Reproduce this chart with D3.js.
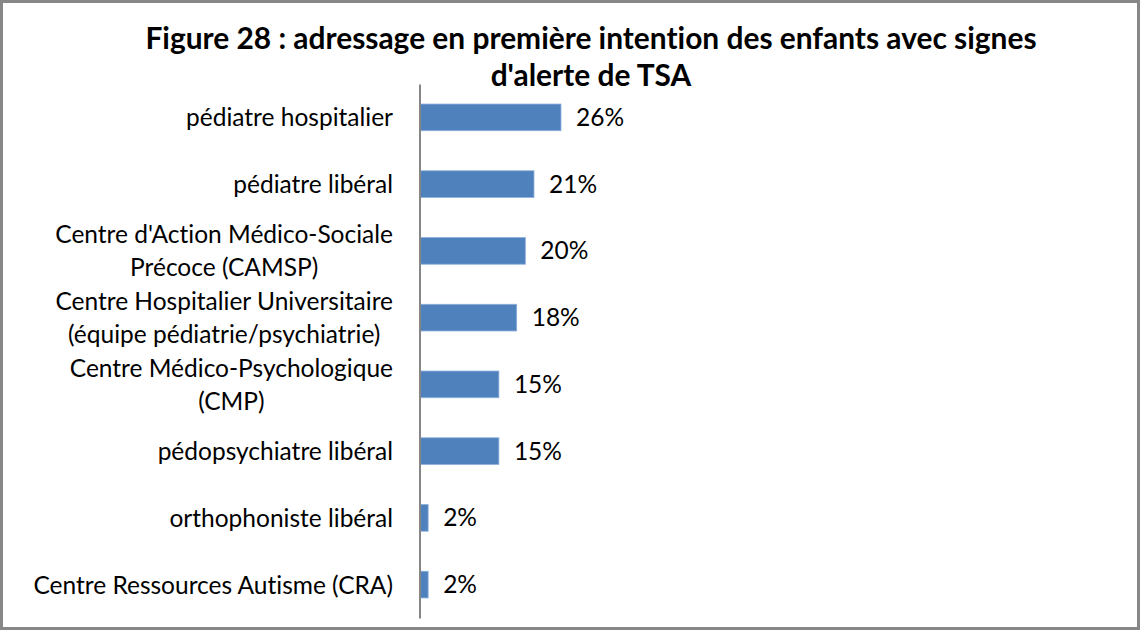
<!DOCTYPE html>
<html>
<head>
<meta charset="utf-8">
<script src="https://cdn.jsdelivr.net/npm/d3@7"></script>
<style>
  html, body { margin: 0; padding: 0; background: #fff; }
  svg { display: block; }
  text { font-variant-ligatures: none; font-feature-settings: "liga" 0; }
</style>
</head>
<body>
<svg id="chart" width="1140" height="631"></svg>
<script>
// ---- Data ----
const titleLines = ["Figure 28 : adressage en première intention des enfants avec signes", "d'alerte de TSA"];
const categories = [
  "pédiatre hospitalier",
  "pédiatre libéral",
  "Centre d'Action Médico-Sociale\nPrécoce (CAMSP)",
  "Centre Hospitalier Universitaire\n(équipe pédiatrie/psychiatrie)",
  "Centre Médico-Psychologique\n(CMP)",
  "pédopsychiatre libéral",
  "orthophoniste libéral",
  "Centre Ressources Autisme (CRA)"
];
const values = [0.262, 0.212, 0.196, 0.180, 0.147, 0.147, 0.016, 0.016];

// ---- Layout ----
const W = 1140, H = 631;
const FONT = "Lato, 'Open Sans', sans-serif";
const svg = d3.select("#chart");

// border
svg.append("rect")
  .attr("x", 1.5).attr("y", 1.5).attr("width", W - 3).attr("height", H - 4)
  .attr("fill", "#fff").attr("stroke", "#878787").attr("stroke-width", 3);

const y = d3.scaleBand().domain(categories).range([84, 618]).paddingInner(0.6).paddingOuter(0.3);
const x = d3.scaleLinear().domain([0, 0.3]).range([419.5, 419.5 + 162]);

// title
const title = svg.append("text")
  .attr("text-anchor", "middle")
  .attr("font-family", FONT).attr("font-weight", "bold").attr("font-size", 29.9)
  .attr("fill", "#000");
titleLines.forEach((t, i) => {
  title.append("tspan").attr("x", 591).attr("y", 49 + i * 37).text(t);
});

// bars
svg.append("g").selectAll("rect")
  .data(values)
  .join("rect")
  .attr("x", x(0))
  .attr("y", (d, i) => y(categories[i]))
  .attr("width", d => x(d) - x(0))
  .attr("height", y.bandwidth())
  .attr("fill", "#4F81BD")
  .attr("stroke", "#8DB0DD")
  .attr("stroke-width", 0.8);

// value labels
const fmt = d3.format(".0%");
svg.append("g").selectAll("text")
  .data(values)
  .join("text")
  .attr("x", d => x(d) + 15)
  .attr("y", (d, i) => y(categories[i]) + y.bandwidth() / 2)
  .attr("dy", "0.35em")
  .attr("font-family", FONT).attr("font-size", 24.5).attr("fill", "#000")
  .text(d => fmt(d));

// axis (line only)
const axis = d3.axisLeft(y).tickSize(0).tickFormat("");
const axisG = svg.append("g").attr("transform", `translate(${x(0)},0)`).call(axis);
axisG.select(".domain").attr("stroke", "#868686").attr("stroke-width", 2);

// category labels (multi-line, centered among themselves, right aligned block)
const labelRight = 393;
const lineH = 33;
const labG = svg.append("g");
categories.forEach(c => {
  const lines = c.split("\n");
  const cy = y(c) + y.bandwidth() / 2;
  const g = labG.append("g");
  const texts = lines.map((l, i) => g.append("text")
    .attr("font-family", FONT).attr("font-size", 24.5).attr("fill", "#000")
    .attr("y", cy + (i - (lines.length - 1) / 2) * lineH)
    .attr("dy", "0.37em")
    .text(l));
  const maxW = d3.max(texts, t => t.node().getComputedTextLength());
  texts.forEach(t => t.attr("text-anchor", "middle").attr("x", labelRight - maxW / 2));
});
</script>
</body>
</html>
